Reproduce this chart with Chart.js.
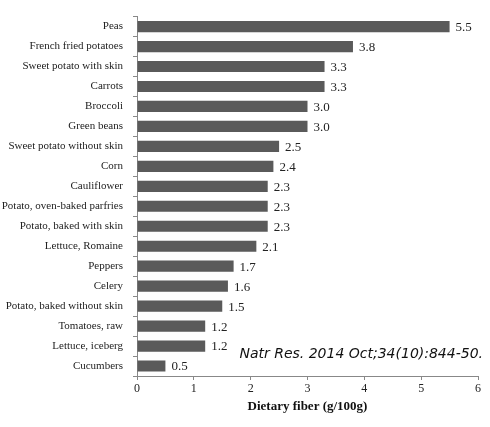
<!DOCTYPE html>
<html>
<head>
	<title>Dietary fiber</title>
	<style>
		body { margin: 0; background: #fff; }
		.chart { width: 490px; height: 427px; }
	</style>
</head>
<body>
	<div class="chart">
	<canvas id="chart1"></canvas>
	</div>

	<script src="https://cdn.jsdelivr.net/npm/chart.js@4.4.0/dist/chart.umd.min.js"></script>
	<script>
		// vegetables, top to bottom
		var vegetables = ["Peas", "French fried potatoes", "Sweet potato with skin", "Carrots", "Broccoli",
			"Green beans", "Sweet potato without skin", "Corn", "Cauliflower", "Potato, oven-baked parfries",
			"Potato, baked with skin", "Lettuce, Romaine", "Peppers", "Celery", "Potato, baked without skin",
			"Tomatoes, raw", "Lettuce, iceberg", "Cucumbers"];
		var fiber = [5.5, 3.8, 3.3, 3.3, 3.0, 3.0, 2.5, 2.4, 2.3, 2.3, 2.3, 2.1, 1.7, 1.6, 1.5, 1.2, 1.2, 0.5];
		var xTicks = [0, 1, 2, 3, 4, 5, 6];
		var citation = "Natr Res. 2014 Oct;34(10):844-50.";

		var serif = "'Liberation Serif', 'DejaVu Serif', serif";

		// write the value after each bar, and the citation
		var valueLabels = {
			id: "valueLabels",
			afterDatasetsDraw: function(chart) {
				var ctx = chart.ctx;
				var meta = chart.getDatasetMeta(0);
				ctx.save();
				ctx.fillStyle = "#222";
				ctx.font = "13px " + serif;
				ctx.textBaseline = "middle";
				ctx.textAlign = "left";
				meta.data.forEach(function(bar, i) {
					ctx.fillText(fiber[i].toFixed(1), bar.x + 6, bar.y + 1);
				});
				ctx.font = "italic 200 14px 'DejaVu Sans', sans-serif";
				ctx.fillStyle = "#111";
				ctx.textAlign = "right";
				ctx.fillText(citation, 483, 354);
				ctx.restore();
			}
		};

		var ctx = document.getElementById("chart1").getContext("2d");
		var chart = new Chart(ctx, {
			type: "bar",
			data: {
				labels: vegetables,
				datasets: [{
					data: fiber,
					backgroundColor: "#5a5a5a",
					barPercentage: 0.56,
					categoryPercentage: 1.0
				}]
			},
			options: {
				indexAxis: "y",
				responsive: true,
				maintainAspectRatio: false,
				animation: false,
				layout: { padding: { top: 15, right: 12, bottom: 9, left: 0 } },
				plugins: {
					legend: { display: false },
					tooltip: { enabled: false }
				},
				scales: {
					x: {
						min: 0,
						max: 6,
						afterBuildTicks: function(axis) {
							axis.ticks = xTicks.map(function(v) { return { value: v }; });
						},
						grid: { drawOnChartArea: false, tickLength: 4, color: "#888" },
						border: { color: "#888" },
						ticks: { color: "#222", font: { family: serif, size: 12 }, padding: 2, maxRotation: 0 },
						title: {
							display: true,
							text: "Dietary fiber (g/100g)",
							color: "#111",
							font: { family: serif, size: 13, weight: "bold" },
							padding: { top: 0 }
						}
					},
					y: {
						afterFit: function(axis) { axis.width = 137; },
						grid: { drawOnChartArea: false, tickLength: 4, color: "#888" },
						border: { color: "#888" },
						ticks: { color: "#222", font: { family: serif, size: 11 }, padding: 10, autoSkip: false }
					}
				}
			},
			plugins: [valueLabels]
		});
	</script>
</body>
</html>
